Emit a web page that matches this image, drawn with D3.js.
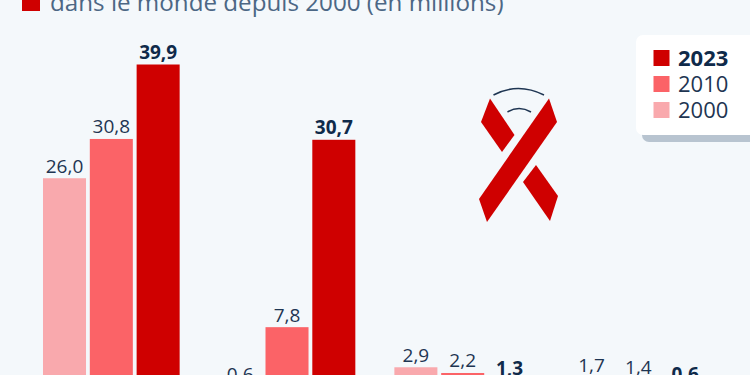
<!DOCTYPE html>
<html>
<head>
<meta charset="utf-8">
<script src="https://cdn.jsdelivr.net/npm/d3@7/dist/d3.min.js"></script>
<style>
    html, body { margin: 0; padding: 0; background: #f4f8fb; overflow: hidden; }
    svg { display: block; font-family: "Open Sans", sans-serif; }
</style>
</head>
<body>
<div id="chart"></div>
<script>
const categories = ["Personnes vivant avec le VIH", "Sous traitement", "Nouvelles infections", "Décès"];
const years = ["2000", "2010", "2023"];
const values2000 = [26.0, 0.6, 2.9, 1.7];
const values2010 = [30.8, 7.8, 2.2, 1.4];
const values2023 = [39.9, 30.7, 1.3, 0.6];
const legendYears = ["2023", "2010", "2000"];
const subtitle = "dans le monde depuis 2000 (en millions)";

const colors = { "2000": "#f9a9ad", "2010": "#fb6367", "2023": "#cf0000" };
const seriesByYear = { "2000": values2000, "2010": values2010, "2023": values2023 };

const w = 750, h = 375;
const svg = d3.select("#chart").append("svg").attr("width", w).attr("height", h);

// baseline sits below the cropped bottom edge
const y = d3.scaleLinear().domain([0, 39.9]).range([391, 64.5]);
const x0 = d3.scaleBand().domain(categories).range([39.2, 710.5]).paddingInner(0.179).paddingOuter(0);
const x1 = d3.scaleBand().domain(years).range([0, x0.bandwidth()]).padding(0.081);

const fmt = v => v.toFixed(1).replace(".", ",");

// subtitle
svg.append("rect").attr("x", 22).attr("y", -6).attr("width", 18).attr("height", 17).attr("fill", colors["2023"]);
svg.append("text").attr("x", 50).attr("y", 11)
    .attr("font-size", 24.2).attr("fill", "#4c6785").text(subtitle);

// bars + labels
years.forEach(year => {
    const rows = categories.map((c, i) => ({ c, v: seriesByYear[year][i] }));
    const g = svg.append("g");
    g.selectAll("rect").data(rows).enter().append("rect")
        .attr("x", d => x0(d.c) + x1(year))
        .attr("y", d => y(d.v))
        .attr("width", x1.bandwidth())
        .attr("height", d => y(0) - y(d.v))
        .attr("fill", colors[year]);
    g.selectAll("text").data(rows).enter().append("text")
        .attr("x", d => x0(d.c) + x1(year) + x1.bandwidth() / 2)
        .attr("y", d => y(d.v) - 5.5)
        .attr("text-anchor", "middle")
        .attr("font-size", 19)
        .attr("font-weight", year === "2023" ? 700 : 400)
        .attr("fill", year === "2023" ? "#0f2a4a" : "#1e3552")
        .text(d => fmt(d.v));
});

// ribbon icon
const ribbon = svg.append("g");
ribbon.append("path").attr("d", "M549,98.5L557,122L487,222L479,199Z").attr("fill", colors["2023"]);
ribbon.append("path").attr("d", "M490,98.5L481,122L502,152L514.5,135Z").attr("fill", colors["2023"]);
ribbon.append("path").attr("d", "M536,165L523,182L550,221L558,196Z").attr("fill", colors["2023"]);
ribbon.append("path").attr("d", "M493.5,95Q518,82 544,95").attr("fill", "none").attr("stroke", "#1e3552").attr("stroke-width", 1.5);
ribbon.append("path").attr("d", "M507.5,112Q519,105 531,112").attr("fill", "none").attr("stroke", "#1e3552").attr("stroke-width", 1.5);

// legend
const legend = svg.append("g");
legend.append("rect").attr("x", 642).attr("y", 45).attr("width", 120).attr("height", 97).attr("rx", 7).attr("fill", "#b8c4d0");
legend.append("rect").attr("x", 636).attr("y", 35).attr("width", 124).attr("height", 100).attr("rx", 7).attr("fill", "#fff");
const ly = d3.scalePoint().domain(legendYears).range([58, 110]);
legend.selectAll("rect.key").data(legendYears).enter().append("rect")
    .attr("class", "key")
    .attr("x", 653.5).attr("y", d => ly(d) - 8)
    .attr("width", 16).attr("height", 16)
    .attr("fill", d => colors[d]);
legend.selectAll("text").data(legendYears).enter().append("text")
    .attr("x", 678).attr("y", d => ly(d) + 7.5)
    .attr("font-size", 22)
    .attr("font-weight", d => d === "2023" ? 700 : 400)
    .attr("fill", d => d === "2023" ? "#0f2a4a" : "#1e3552")
    .text(d => d);
</script>
</body>
</html>
